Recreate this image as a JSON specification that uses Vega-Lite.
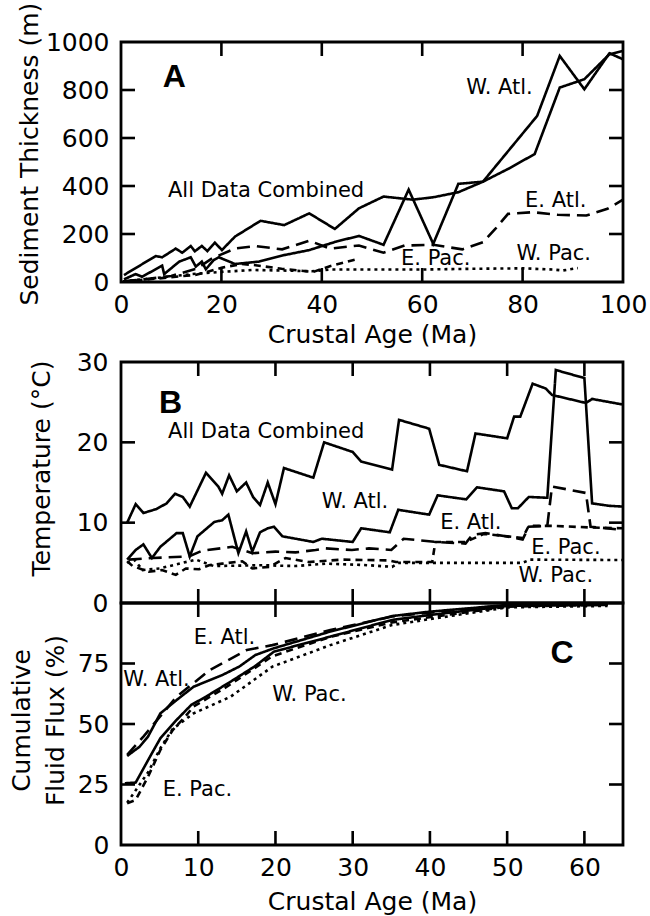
{
 "$schema": "https://vega.github.io/schema/vega-lite/v6.json",
 "background": "white",
 "padding": {"left": 7, "top": 0, "right": 0, "bottom": 0},
 "spacing": 80,
 "bounds": "flush",
 "config": {
  "font": "DejaVu Sans",
  "view": {"stroke": "black", "strokeWidth": 2.8},
  "axis": {"domain": false, "grid": false, "ticks": false, "labelFont": "DejaVu Sans", "labelFontSize": 25, "labelColor": "black", "titleFont": "DejaVu Sans", "titleFontSize": 25, "titleFontWeight": "normal", "titleColor": "black", "labelFlush": false, "labelOverlap": false, "format": "d"},
  "line": {"color": "black", "strokeWidth": 2.6},
  "tick": {"color": "black", "opacity": 1, "thickness": 2.6},
  "text": {"font": "DejaVu Sans", "fontSize": 21, "color": "black"}
 },
 "datasets": {
  "A": [
   {"s":"W. Atl.","x":0.6,"y":11},{"s":"W. Atl.","x":2.9,"y":33},{"s":"W. Atl.","x":4.2,"y":22},{"s":"W. Atl.","x":8.2,"y":68},{"s":"W. Atl.","x":8.6,"y":33},{"s":"W. Atl.","x":11.6,"y":85},{"s":"W. Atl.","x":13.9,"y":103},{"s":"W. Atl.","x":14.9,"y":64},{"s":"W. Atl.","x":16.1,"y":85},{"s":"W. Atl.","x":16.9,"y":53},{"s":"W. Atl.","x":18.5,"y":92},{"s":"W. Atl.","x":19.5,"y":103},{"s":"W. Atl.","x":22.7,"y":75},{"s":"W. Atl.","x":27.5,"y":85},{"s":"W. Atl.","x":32.5,"y":112},{"s":"W. Atl.","x":37.5,"y":133},{"s":"W. Atl.","x":42.8,"y":168},{"s":"W. Atl.","x":47.4,"y":192},{"s":"W. Atl.","x":52.3,"y":155},{"s":"W. Atl.","x":57.3,"y":385},{"s":"W. Atl.","x":62.2,"y":159},{"s":"W. Atl.","x":67.2,"y":409},{"s":"W. Atl.","x":72.1,"y":418},{"s":"W. Atl.","x":82.9,"y":692},{"s":"W. Atl.","x":87.4,"y":942},{"s":"W. Atl.","x":92.3,"y":803},{"s":"W. Atl.","x":97.3,"y":953},{"s":"W. Atl.","x":100,"y":928},
   {"s":"All","x":0.6,"y":29},{"s":"All","x":6.9,"y":108},{"s":"All","x":8.2,"y":103},{"s":"All","x":10.9,"y":139},{"s":"All","x":12.2,"y":122},{"s":"All","x":13.9,"y":150},{"s":"All","x":14.7,"y":128},{"s":"All","x":16.1,"y":150},{"s":"All","x":17.2,"y":129},{"s":"All","x":18.7,"y":164},{"s":"All","x":20.1,"y":133},{"s":"All","x":22.7,"y":189},{"s":"All","x":27.8,"y":255},{"s":"All","x":32.5,"y":237},{"s":"All","x":37.5,"y":286},{"s":"All","x":42.6,"y":221},{"s":"All","x":47.4,"y":307},{"s":"All","x":52.3,"y":356},{"s":"All","x":58.1,"y":343},{"s":"All","x":62.2,"y":353},{"s":"All","x":67.2,"y":374},{"s":"All","x":72.1,"y":418},{"s":"All","x":77.1,"y":471},{"s":"All","x":82.4,"y":533},{"s":"All","x":87.4,"y":810},{"s":"All","x":92.3,"y":845},{"s":"All","x":97.3,"y":949},{"s":"All","x":100,"y":963},
   {"s":"E. Atl.","x":0.5,"y":3},{"s":"E. Atl.","x":5,"y":12},{"s":"E. Atl.","x":10,"y":25},{"s":"E. Atl.","x":15,"y":55},{"s":"E. Atl.","x":18.2,"y":99},{"s":"E. Atl.","x":22.8,"y":140},{"s":"E. Atl.","x":26.8,"y":150},{"s":"E. Atl.","x":32.1,"y":136},{"s":"E. Atl.","x":37.5,"y":172},{"s":"E. Atl.","x":41.6,"y":139},{"s":"E. Atl.","x":47.4,"y":152},{"s":"E. Atl.","x":52.3,"y":122},{"s":"E. Atl.","x":56.5,"y":152},{"s":"E. Atl.","x":62.2,"y":155},{"s":"E. Atl.","x":68,"y":136},{"s":"E. Atl.","x":72.1,"y":166},{"s":"E. Atl.","x":74.6,"y":222},{"s":"E. Atl.","x":77.1,"y":284},{"s":"E. Atl.","x":82,"y":291},{"s":"E. Atl.","x":87,"y":280},{"s":"E. Atl.","x":92.7,"y":277},{"s":"E. Atl.","x":96.9,"y":305},{"s":"E. Atl.","x":100,"y":343},
   {"s":"E. Pac.","x":0.5,"y":2},{"s":"E. Pac.","x":5,"y":10},{"s":"E. Pac.","x":10,"y":20},{"s":"E. Pac.","x":15,"y":30},{"s":"E. Pac.","x":20.2,"y":60},{"s":"E. Pac.","x":24,"y":75},{"s":"E. Pac.","x":26.8,"y":70},{"s":"E. Pac.","x":32,"y":55},{"s":"E. Pac.","x":38.3,"y":42},{"s":"E. Pac.","x":41.6,"y":66},{"s":"E. Pac.","x":47.4,"y":97},
   {"s":"W. Pac.","x":0.4,"y":3},{"s":"W. Pac.","x":6.2,"y":15},{"s":"W. Pac.","x":14.1,"y":33},{"s":"W. Pac.","x":20.1,"y":42},{"s":"W. Pac.","x":26,"y":50},{"s":"W. Pac.","x":32,"y":48},{"s":"W. Pac.","x":38,"y":45},{"s":"W. Pac.","x":42,"y":52},{"s":"W. Pac.","x":50,"y":52},{"s":"W. Pac.","x":60,"y":52},{"s":"W. Pac.","x":70,"y":55},{"s":"W. Pac.","x":80,"y":57},{"s":"W. Pac.","x":86,"y":52},{"s":"W. Pac.","x":88,"y":48},{"s":"W. Pac.","x":91,"y":58}
  ],
  "B": [
   {"s":"All","x":0.8,"y":10.0},{"s":"All","x":1.9,"y":12.3},{"s":"All","x":2.9,"y":11.2},{"s":"All","x":4.6,"y":11.7},{"s":"All","x":5.9,"y":12.4},{"s":"All","x":7.0,"y":13.6},{"s":"All","x":8.0,"y":13.2},{"s":"All","x":8.9,"y":12.0},{"s":"All","x":11.0,"y":16.2},{"s":"All","x":12.6,"y":14.5},{"s":"All","x":13.1,"y":13.6},{"s":"All","x":14.0,"y":15.9},{"s":"All","x":15.0,"y":13.9},{"s":"All","x":16.2,"y":15.0},{"s":"All","x":17.1,"y":13.2},{"s":"All","x":18.0,"y":12.2},{"s":"All","x":19.0,"y":15.0},{"s":"All","x":20.0,"y":12.3},{"s":"All","x":21.1,"y":16.8},{"s":"All","x":24.9,"y":15.6},{"s":"All","x":26.3,"y":20.0},{"s":"All","x":30.0,"y":18.8},{"s":"All","x":31.1,"y":17.6},{"s":"All","x":35.1,"y":16.6},{"s":"All","x":36.0,"y":22.8},{"s":"All","x":39.9,"y":21.7},{"s":"All","x":41.2,"y":17.2},{"s":"All","x":44.8,"y":16.4},{"s":"All","x":45.9,"y":21.1},{"s":"All","x":50.0,"y":20.5},{"s":"All","x":50.9,"y":23.2},{"s":"All","x":51.7,"y":23.2},{"s":"All","x":53.3,"y":27.3},{"s":"All","x":55.0,"y":26.7},{"s":"All","x":55.8,"y":25.9},{"s":"All","x":60.2,"y":24.9},{"s":"All","x":61.0,"y":25.4},{"s":"All","x":65,"y":24.7},
   {"s":"W. Atl.","x":0.8,"y":5.4},{"s":"W. Atl.","x":1.9,"y":6.6},{"s":"W. Atl.","x":2.9,"y":7.3},{"s":"W. Atl.","x":4.0,"y":5.6},{"s":"W. Atl.","x":5.1,"y":7.0},{"s":"W. Atl.","x":7.2,"y":8.7},{"s":"W. Atl.","x":8.0,"y":8.7},{"s":"W. Atl.","x":8.9,"y":5.8},{"s":"W. Atl.","x":9.9,"y":8.3},{"s":"W. Atl.","x":12.1,"y":10.1},{"s":"W. Atl.","x":13.1,"y":10.3},{"s":"W. Atl.","x":13.9,"y":11.0},{"s":"W. Atl.","x":15.2,"y":6.2},{"s":"W. Atl.","x":16.2,"y":8.9},{"s":"W. Atl.","x":17.0,"y":6.4},{"s":"W. Atl.","x":18.0,"y":8.8},{"s":"W. Atl.","x":19.0,"y":9.3},{"s":"W. Atl.","x":19.8,"y":9.5},{"s":"W. Atl.","x":20.9,"y":8.3},{"s":"W. Atl.","x":24.9,"y":7.6},{"s":"W. Atl.","x":26.0,"y":8.0},{"s":"W. Atl.","x":30.0,"y":7.6},{"s":"W. Atl.","x":31.1,"y":9.3},{"s":"W. Atl.","x":34.8,"y":8.8},{"s":"W. Atl.","x":35.9,"y":11.6},{"s":"W. Atl.","x":39.9,"y":11.0},{"s":"W. Atl.","x":41.0,"y":13.4},{"s":"W. Atl.","x":44.7,"y":12.9},{"s":"W. Atl.","x":46.1,"y":14.4},{"s":"W. Atl.","x":49.6,"y":13.9},{"s":"W. Atl.","x":50.6,"y":11.8},{"s":"W. Atl.","x":51.4,"y":11.8},{"s":"W. Atl.","x":52.8,"y":13.2},{"s":"W. Atl.","x":55.2,"y":13.1},{"s":"W. Atl.","x":56.3,"y":29.0},{"s":"W. Atl.","x":60.0,"y":28.0},{"s":"W. Atl.","x":61.0,"y":12.4},{"s":"W. Atl.","x":63.2,"y":12.1},{"s":"W. Atl.","x":65,"y":12.0},
   {"s":"E. Atl.","x":1.0,"y":5.4},{"s":"E. Atl.","x":4.1,"y":5.6},{"s":"E. Atl.","x":8.8,"y":5.8},{"s":"E. Atl.","x":10.5,"y":6.5},{"s":"E. Atl.","x":14.4,"y":7.0},{"s":"E. Atl.","x":17.0,"y":6.2},{"s":"E. Atl.","x":20.0,"y":6.4},{"s":"E. Atl.","x":22.6,"y":6.3},{"s":"E. Atl.","x":25.2,"y":6.6},{"s":"E. Atl.","x":26.5,"y":6.8},{"s":"E. Atl.","x":29.9,"y":6.6},{"s":"E. Atl.","x":32.1,"y":6.8},{"s":"E. Atl.","x":35.0,"y":6.6},{"s":"E. Atl.","x":36.6,"y":8.0},{"s":"E. Atl.","x":40.7,"y":7.6},{"s":"E. Atl.","x":44.6,"y":7.4},{"s":"E. Atl.","x":45.5,"y":8.5},{"s":"E. Atl.","x":47.2,"y":8.7},{"s":"E. Atl.","x":49.8,"y":8.3},{"s":"E. Atl.","x":52.0,"y":7.9},{"s":"E. Atl.","x":52.8,"y":9.5},{"s":"E. Atl.","x":55.2,"y":9.6},{"s":"E. Atl.","x":55.8,"y":14.5},{"s":"E. Atl.","x":60.2,"y":13.7},{"s":"E. Atl.","x":60.8,"y":9.5},{"s":"E. Atl.","x":65,"y":9.1},
   {"s":"E. Pac.","x":0.8,"y":5.2},{"s":"E. Pac.","x":1.5,"y":4.6},{"s":"E. Pac.","x":3.6,"y":3.9},{"s":"E. Pac.","x":5.3,"y":4.1},{"s":"E. Pac.","x":7.1,"y":3.5},{"s":"E. Pac.","x":8.4,"y":4.3},{"s":"E. Pac.","x":10.1,"y":4.2},{"s":"E. Pac.","x":11.4,"y":4.7},{"s":"E. Pac.","x":13.1,"y":4.9},{"s":"E. Pac.","x":15.7,"y":5.2},{"s":"E. Pac.","x":17.0,"y":4.3},{"s":"E. Pac.","x":19.2,"y":4.5},{"s":"E. Pac.","x":21.3,"y":5.6},{"s":"E. Pac.","x":24.3,"y":5.1},{"s":"E. Pac.","x":28.7,"y":5.4},{"s":"E. Pac.","x":34.7,"y":5.3},{"s":"E. Pac.","x":35.6,"y":5.1},{"s":"E. Pac.","x":40.3,"y":5.1},{"s":"E. Pac.","x":40.7,"y":7.6},{"s":"E. Pac.","x":44.6,"y":7.6},{"s":"E. Pac.","x":47,"y":8.6},{"s":"E. Pac.","x":52,"y":8.1},{"s":"E. Pac.","x":52.8,"y":9.6},{"s":"E. Pac.","x":56,"y":9.6},{"s":"E. Pac.","x":60.8,"y":9.4},{"s":"E. Pac.","x":65,"y":9.3},
   {"s":"W. Pac.","x":0.8,"y":5.0},{"s":"W. Pac.","x":1.7,"y":5.4},{"s":"W. Pac.","x":2.8,"y":4.1},{"s":"W. Pac.","x":5,"y":4.3},{"s":"W. Pac.","x":9.7,"y":5.4},{"s":"W. Pac.","x":12,"y":4.6},{"s":"W. Pac.","x":18.3,"y":4.7},{"s":"W. Pac.","x":22.6,"y":4.6},{"s":"W. Pac.","x":26.5,"y":4.9},{"s":"W. Pac.","x":32.1,"y":4.7},{"s":"W. Pac.","x":35.1,"y":4.5},{"s":"W. Pac.","x":36,"y":5.0},{"s":"W. Pac.","x":45,"y":5.0},{"s":"W. Pac.","x":52,"y":5.0},{"s":"W. Pac.","x":53,"y":5.4},{"s":"W. Pac.","x":65,"y":5.35}
  ],
  "C": [
   {"s":"W. Atl.","x":0.8,"y":36.8},{"s":"W. Atl.","x":2.4,"y":40.6},{"s":"W. Atl.","x":3.5,"y":44.8},{"s":"W. Atl.","x":5.1,"y":54.4},{"s":"W. Atl.","x":7.2,"y":59.9},{"s":"W. Atl.","x":9.4,"y":65.4},{"s":"W. Atl.","x":13.1,"y":70.2},{"s":"W. Atl.","x":15.3,"y":73.7},{"s":"W. Atl.","x":17.4,"y":78.5},{"s":"W. Atl.","x":19.8,"y":81.3},{"s":"W. Atl.","x":27.1,"y":88.2},{"s":"W. Atl.","x":35.1,"y":94.6},{"s":"W. Atl.","x":39.9,"y":96.4},{"s":"W. Atl.","x":50.1,"y":99.2},{"s":"W. Atl.","x":63,"y":99.6},
   {"s":"All","x":0.5,"y":25.5},{"s":"All","x":1.9,"y":25.8},{"s":"All","x":4.0,"y":37.9},{"s":"All","x":5.1,"y":44.1},{"s":"All","x":7.2,"y":51.7},{"s":"All","x":9.1,"y":57.9},{"s":"All","x":11.0,"y":61.3},{"s":"All","x":14.2,"y":67.5},{"s":"All","x":17.4,"y":74.0},{"s":"All","x":19.8,"y":79.9},{"s":"All","x":27.1,"y":86.1},{"s":"All","x":35.1,"y":93.0},{"s":"All","x":39.9,"y":95.0},{"s":"All","x":50.1,"y":98.8},{"s":"All","x":63,"y":99.2},
   {"s":"E. Atl.","x":0.8,"y":37.2},{"s":"E. Atl.","x":2.9,"y":44.8},{"s":"E. Atl.","x":7.2,"y":61.3},{"s":"E. Atl.","x":11.5,"y":72.3},{"s":"E. Atl.","x":16.3,"y":80.6},{"s":"E. Atl.","x":19.6,"y":82.6},{"s":"E. Atl.","x":27.1,"y":88.8},{"s":"E. Atl.","x":35.1,"y":94.4},{"s":"E. Atl.","x":50.1,"y":99.2},{"s":"E. Atl.","x":63,"y":99.6},
   {"s":"E. Pac.","x":0.8,"y":17.2},{"s":"E. Pac.","x":1.9,"y":18.6},{"s":"E. Pac.","x":3.5,"y":28.2},{"s":"E. Pac.","x":5.1,"y":39.3},{"s":"E. Pac.","x":6.7,"y":47.5},{"s":"E. Pac.","x":8.3,"y":53.0},{"s":"E. Pac.","x":9.4,"y":57.2},{"s":"E. Pac.","x":13.7,"y":65.4},{"s":"E. Pac.","x":19.6,"y":78},{"s":"E. Pac.","x":27.1,"y":86},{"s":"E. Pac.","x":35.1,"y":92},{"s":"E. Pac.","x":50.1,"y":98.5},{"s":"E. Pac.","x":63,"y":99.3},
   {"s":"W. Pac.","x":0.8,"y":17.5},{"s":"W. Pac.","x":3.5,"y":30},{"s":"W. Pac.","x":5.1,"y":40},{"s":"W. Pac.","x":6.7,"y":48},{"s":"W. Pac.","x":9.4,"y":54.4},{"s":"W. Pac.","x":14.2,"y":61.3},{"s":"W. Pac.","x":19.6,"y":73.7},{"s":"W. Pac.","x":27.1,"y":82.6},{"s":"W. Pac.","x":35.1,"y":90.9},{"s":"W. Pac.","x":39.9,"y":93.3},{"s":"W. Pac.","x":50.1,"y":98.2},{"s":"W. Pac.","x":63,"y":98.8}
  ],
  "labA": [{"t":"W. Atl.","x":75.4,"y":810},{"t":"All Data Combined","x":28.9,"y":381},{"t":"E. Atl.","x":86.6,"y":339},{"t":"E. Pac.","x":62.7,"y":97},{"t":"W. Pac.","x":86.2,"y":115}],
  "labB": [{"t":"All Data Combined","x":18.8,"y":21.3},{"t":"W. Atl.","x":30.3,"y":12.6},{"t":"E. Atl.","x":45.3,"y":9.9},{"t":"E. Pac.","x":57.6,"y":6.8},{"t":"W. Pac.","x":56.3,"y":3.3}],
  "labC": [{"t":"E. Atl.","x":13.4,"y":85.4},{"t":"W. Atl.","x":4.6,"y":68.2},{"t":"W. Pac.","x":24.4,"y":62},{"t":"E. Pac.","x":9.9,"y":22.7}],
  "letA": [{"t":"A","x":10.6,"y":854}],
  "letB": [{"t":"B","x":6.4,"y":24.9}],
  "letC": [{"t":"C","x":57.1,"y":79.2}],
  "tAx": [{"v":20},{"v":40},{"v":60},{"v":80}],
  "tAy": [{"v":200},{"v":400},{"v":600},{"v":800}],
  "tBx": [{"v":10},{"v":20},{"v":30},{"v":40},{"v":50},{"v":60}],
  "tBy": [{"v":10},{"v":20}],
  "tCy": [{"v":25},{"v":50},{"v":75}]
 },
 "vconcat": [
  {
   "width": 502, "height": 240,
   "resolve": {"axis": {"x": "independent", "y": "independent"}},
   "layer": [
    {
     "data": {"name": "A"},
     "mark": {"type": "line"},
     "encoding": {
      "x": {"field": "x", "type": "quantitative", "scale": {"domain": [0, 100], "nice": false}, "axis": {"values": [0, 20, 40, 60, 80, 100], "title": "Crustal Age (Ma)", "labelPadding": 10, "titleY": 52, "titleBaseline": "middle"}},
      "y": {"field": "y", "type": "quantitative", "scale": {"domain": [0, 1000], "nice": false}, "axis": {"values": [0, 200, 400, 600, 800, 1000], "title": "Sediment Thickness (m)", "labelPadding": 12, "titleX": -92, "titleY": 263, "titleAlign": "left", "titleBaseline": "middle", "titleAngle": 270}},
      "detail": {"field": "s"},
      "strokeDash": {"field": "s", "type": "nominal", "legend": null, "scale": {"domain": ["All", "W. Atl.", "E. Atl.", "E. Pac.", "W. Pac."], "range": [[1, 0], [1, 0], [13, 7], [7, 5], [3, 4]]}}
     }
    },
    {"data": {"name": "tAx"}, "mark": {"type": "tick", "orient": "vertical", "size": 14, "yOffset": 7},
     "encoding": {"x": {"field": "v", "type": "quantitative", "axis": null}, "y": {"datum": 1000, "type": "quantitative", "axis": null}}},
    {"data": {"name": "tAx"}, "mark": {"type": "tick", "orient": "vertical", "size": 14, "yOffset": -7},
     "encoding": {"x": {"field": "v", "type": "quantitative", "axis": null}, "y": {"datum": 0, "type": "quantitative", "axis": null}}},
    {"data": {"name": "tAy"}, "mark": {"type": "tick", "orient": "horizontal", "size": 14, "xOffset": 7},
     "encoding": {"y": {"field": "v", "type": "quantitative", "axis": null}, "x": {"datum": 0, "type": "quantitative", "axis": null}}},
    {"data": {"name": "tAy"}, "mark": {"type": "tick", "orient": "horizontal", "size": 14, "xOffset": -7},
     "encoding": {"y": {"field": "v", "type": "quantitative", "axis": null}, "x": {"datum": 100, "type": "quantitative", "axis": null}}},
    {
     "data": {"name": "labA"},
     "mark": {"type": "text"},
     "encoding": {
      "x": {"field": "x", "type": "quantitative", "axis": null},
      "y": {"field": "y", "type": "quantitative", "axis": null},
      "text": {"field": "t"}
     }
    },
    {
     "data": {"name": "letA"},
     "mark": {"type": "text", "fontSize": 32, "fontWeight": "bold", "font": "Liberation Sans"},
     "encoding": {
      "x": {"field": "x", "type": "quantitative", "axis": null},
      "y": {"field": "y", "type": "quantitative", "axis": null},
      "text": {"field": "t"}
     }
    }
   ]
  },
  {
   "spacing": 0,
   "bounds": "flush",
   "vconcat": [
    {
     "width": 502, "height": 241,
     "resolve": {"axis": {"x": "independent", "y": "independent"}},
     "layer": [
      {
       "data": {"name": "B"},
       "mark": {"type": "line"},
       "encoding": {
        "x": {"field": "x", "type": "quantitative", "scale": {"domain": [0, 65], "nice": false}, "axis": null},
        "y": {"field": "y", "type": "quantitative", "scale": {"domain": [0, 30], "nice": false}, "axis": {"values": [0, 10, 20, 30], "title": "Temperature (°C)", "labelPadding": 13, "titleX": -80, "titleY": 106, "titleAlign": "center", "titleBaseline": "middle", "titleAngle": 270}},
        "detail": {"field": "s"},
        "strokeDash": {"field": "s", "type": "nominal", "legend": null, "scale": {"domain": ["All", "W. Atl.", "E. Atl.", "E. Pac.", "W. Pac."], "range": [[1, 0], [1, 0], [13, 7], [7, 5], [3, 4]]}}
       }
      },
      {"data": {"name": "tBx"}, "mark": {"type": "tick", "orient": "vertical", "size": 14, "yOffset": 7},
       "encoding": {"x": {"field": "v", "type": "quantitative", "axis": null}, "y": {"datum": 30, "type": "quantitative", "axis": null}}},
      {"data": {"name": "tBx"}, "mark": {"type": "tick", "orient": "vertical", "size": 14, "yOffset": -7},
       "encoding": {"x": {"field": "v", "type": "quantitative", "axis": null}, "y": {"datum": 0, "type": "quantitative", "axis": null}}},
      {"data": {"name": "tBy"}, "mark": {"type": "tick", "orient": "horizontal", "size": 14, "xOffset": 7},
       "encoding": {"y": {"field": "v", "type": "quantitative", "axis": null}, "x": {"datum": 0, "type": "quantitative", "axis": null}}},
      {"data": {"name": "tBy"}, "mark": {"type": "tick", "orient": "horizontal", "size": 14, "xOffset": -7},
       "encoding": {"y": {"field": "v", "type": "quantitative", "axis": null}, "x": {"datum": 65, "type": "quantitative", "axis": null}}},
      {
       "data": {"name": "labB"},
       "mark": {"type": "text"},
       "encoding": {
        "x": {"field": "x", "type": "quantitative", "axis": null},
        "y": {"field": "y", "type": "quantitative", "axis": null},
        "text": {"field": "t"}
       }
      },
      {
       "data": {"name": "letB"},
       "mark": {"type": "text", "fontSize": 32, "fontWeight": "bold", "font": "Liberation Sans"},
       "encoding": {
        "x": {"field": "x", "type": "quantitative", "axis": null},
        "y": {"field": "y", "type": "quantitative", "axis": null},
        "text": {"field": "t"}
       }
      }
     ]
    },
    {
     "width": 502, "height": 242,
     "resolve": {"axis": {"x": "independent", "y": "independent"}},
     "layer": [
      {
       "data": {"name": "C"},
       "mark": {"type": "line"},
       "encoding": {
        "x": {"field": "x", "type": "quantitative", "scale": {"domain": [0, 65], "nice": false}, "axis": {"values": [0, 10, 20, 30, 40, 50, 60], "title": "Crustal Age (Ma)", "labelPadding": 10, "titleY": 56, "titleBaseline": "middle"}},
        "y": {"field": "y", "type": "quantitative", "scale": {"domain": [0, 100], "nice": false}, "axis": {"values": [0, 25, 50, 75], "title": ["Cumulative", "Fluid Flux (%)"], "titleLineHeight": 34, "labelPadding": 12, "titleX": -100, "titleY": 117, "titleAlign": "center", "titleBaseline": "middle", "titleAngle": 270}},
        "detail": {"field": "s"},
        "strokeDash": {"field": "s", "type": "nominal", "legend": null, "scale": {"domain": ["All", "W. Atl.", "E. Atl.", "E. Pac.", "W. Pac."], "range": [[1, 0], [1, 0], [13, 7], [7, 5], [3, 4]]}}
       }
      },
      {"data": {"name": "tBx"}, "mark": {"type": "tick", "orient": "vertical", "size": 14, "yOffset": 7},
       "encoding": {"x": {"field": "v", "type": "quantitative", "axis": null}, "y": {"datum": 100, "type": "quantitative", "axis": null}}},
      {"data": {"name": "tBx"}, "mark": {"type": "tick", "orient": "vertical", "size": 14, "yOffset": -7},
       "encoding": {"x": {"field": "v", "type": "quantitative", "axis": null}, "y": {"datum": 0, "type": "quantitative", "axis": null}}},
      {"data": {"name": "tCy"}, "mark": {"type": "tick", "orient": "horizontal", "size": 14, "xOffset": 7},
       "encoding": {"y": {"field": "v", "type": "quantitative", "axis": null}, "x": {"datum": 0, "type": "quantitative", "axis": null}}},
      {"data": {"name": "tCy"}, "mark": {"type": "tick", "orient": "horizontal", "size": 14, "xOffset": -7},
       "encoding": {"y": {"field": "v", "type": "quantitative", "axis": null}, "x": {"datum": 65, "type": "quantitative", "axis": null}}},
      {
       "data": {"name": "labC"},
       "mark": {"type": "text"},
       "encoding": {
        "x": {"field": "x", "type": "quantitative", "axis": null},
        "y": {"field": "y", "type": "quantitative", "axis": null},
        "text": {"field": "t"}
       }
      },
      {
       "data": {"name": "letC"},
       "mark": {"type": "text", "fontSize": 32, "fontWeight": "bold", "font": "Liberation Sans"},
       "encoding": {
        "x": {"field": "x", "type": "quantitative", "axis": null},
        "y": {"field": "y", "type": "quantitative", "axis": null},
        "text": {"field": "t"}
       }
      }
     ]
    }
   ]
  }
 ]
}
